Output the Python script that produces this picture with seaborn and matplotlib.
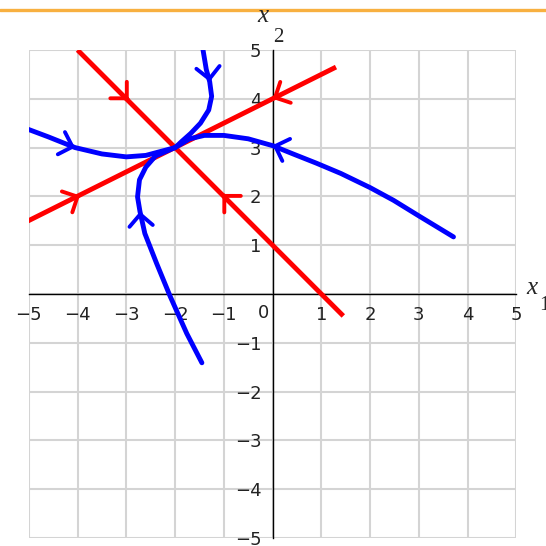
import matplotlib
matplotlib.use("Agg")
import matplotlib.pyplot as plt
import seaborn as sns
import pandas as pd
from matplotlib.lines import Line2D

# Straight-line solutions through the node at (-2, 3)
line_a_x1 = [-4.0, 1.45]
line_a_x2 = [5.0, -0.45]
line_b_x1 = [-5.05, 1.3]
line_b_x2 = [1.48, 4.65]

# Curved trajectories approaching the node
left_x1 = [-5.08, -4.6, -4.05, -3.5, -3.0, -2.6, -2.3, -2.0]
left_x2 = [3.40, 3.22, 3.0, 2.87, 2.81, 2.84, 2.92, 3.0]

right_x1 = [3.71, 3.0, 2.48, 2.0, 1.4, 0.9, 0.42, 0.0, -0.5, -1.0, -1.4, -1.7, -2.0]
right_x2 = [1.17, 1.6, 1.92, 2.18, 2.47, 2.68, 2.87, 3.04, 3.18, 3.25, 3.25, 3.18, 3.0]

top_x1 = [-1.43, -1.36, -1.29, -1.25, -1.31, -1.48, -1.68, -1.86, -2.0]
top_x2 = [5.02, 4.6, 4.35, 4.05, 3.77, 3.5, 3.29, 3.13, 3.0]

bottom_x1 = [-1.45, -1.76, -2.1, -2.38, -2.62, -2.72, -2.77, -2.73, -2.6, -2.4, -2.0]
bottom_x2 = [-1.41, -0.81, -0.05, 0.63, 1.24, 1.69, 1.99, 2.34, 2.6, 2.83, 3.0]

# Direction arrows: tip position, direction, colour
arrow_x1 = [-2.95, -1.03, 0.0, -3.95, -4.05, 0.0, -1.29, -2.72]
arrow_x2 = [3.97, 2.05, 4.0, 2.02, 3.0, 3.05, 4.35, 1.69]
arrow_dx = [1.0, -1.0, -2.0, 2.0, 1.0, -1.0, 0.12, -0.08]
arrow_dy = [-1.0, 1.0, -1.0, 1.0, -0.32, 0.35, -1.0, 1.0]
arrow_col = ["red", "red", "red", "red", "blue", "blue", "blue", "blue"]

tick_vals = [-5, -4, -3, -2, -1, 0, 1, 2, 3, 4, 5]

sns.set_style("white")
plt.rcParams["font.family"] = ["DejaVu Sans"]

W = 546
fig = plt.figure(figsize=(W / 100, W / 100), dpi=100)
ax = fig.add_axes([28.8 / W, 8 / W, 487.6 / W, 488 / W])

RED = "#ff0000"
BLUE = "#0000ff"
LW = 3.5

for xs, ys in [(line_a_x1, line_a_x2), (line_b_x1, line_b_x2)]:
    sns.lineplot(x=xs, y=ys, ax=ax, color=RED, lw=LW, sort=False,
                 estimator=None, solid_capstyle="butt", zorder=3)

for xs, ys in [(left_x1, left_x2), (right_x1, right_x2),
               (top_x1, top_x2), (bottom_x1, bottom_x2)]:
    df = pd.DataFrame({"x1": xs, "x2": ys})
    sns.lineplot(data=df, x="x1", y="x2", ax=ax, color=BLUE, lw=LW,
                 sort=False, estimator=None, solid_capstyle="round",
                 solid_joinstyle="round", zorder=4)

for x, y, dx, dy, c in zip(arrow_x1, arrow_x2, arrow_dx, arrow_dy, arrow_col):
    n = (dx * dx + dy * dy) ** 0.5
    ax.annotate("", xy=(x, y), xytext=(x - 0.05 * dx / n, y - 0.05 * dy / n),
                arrowprops=dict(arrowstyle="->,head_length=0.42,head_width=0.42",
                                color=RED if c == "red" else BLUE, lw=2.8,
                                shrinkA=0, shrinkB=0, mutation_scale=20),
                zorder=5)

ax.set_xlim(-5, 5)
ax.set_ylim(-5, 5)
ax.set_xlabel("")
ax.set_ylabel("")


def fmt(v):
    if v == 0:
        return ""
    return f"\u2212{-v}" if v < 0 else str(v)


ax.set_xticks(tick_vals)
ax.set_yticks(tick_vals)
ax.set_xticklabels([fmt(v) for v in tick_vals])
ax.set_yticklabels([fmt(v) for v in tick_vals])
ax.grid(True, color="#d4d4d4", lw=1.5, zorder=0)
ax.tick_params(direction="out", length=5, width=1, color="black",
               labelsize=13, labelcolor="#222222")
ax.tick_params(axis="x", pad=4)
ax.tick_params(axis="y", pad=3)

for s in ["top", "right"]:
    ax.spines[s].set_visible(False)
for s in ["left", "bottom"]:
    ax.spines[s].set_position("zero")
    ax.spines[s].set_color("black")
    ax.spines[s].set_linewidth(1)
    ax.spines[s].set_zorder(2)
ax.set_axisbelow(True)
for lab in ax.get_xticklabels() + ax.get_yticklabels():
    lab.set_zorder(6)

ax.text(-0.19, -0.39, "0", ha="center", va="center", fontsize=13,
        color="#222222", zorder=6)

# Axis names
serif = ["Liberation Serif", "DejaVu Serif"]
fig.text(532 / W, 1 - 288 / W, "x", family=serif, style="italic", fontsize=18,
         ha="center", va="center")
fig.text(544 / W, 1 - 305 / W, "1", family=serif, fontsize=15,
         ha="center", va="center")
fig.text(263 / W, 1 - 16 / W, "x", family=serif, style="italic", fontsize=18,
         ha="center", va="center")
fig.text(278 / W, 1 - 37 / W, "2", family=serif, fontsize=15,
         ha="center", va="center")

# Orange rule along the top edge
fig.add_artist(Line2D([0, 1], [1 - 9.5 / W, 1 - 9.5 / W], transform=fig.transFigure,
                      color="#f8b040", lw=2.4))

fig.savefig("out.png", dpi=100)
